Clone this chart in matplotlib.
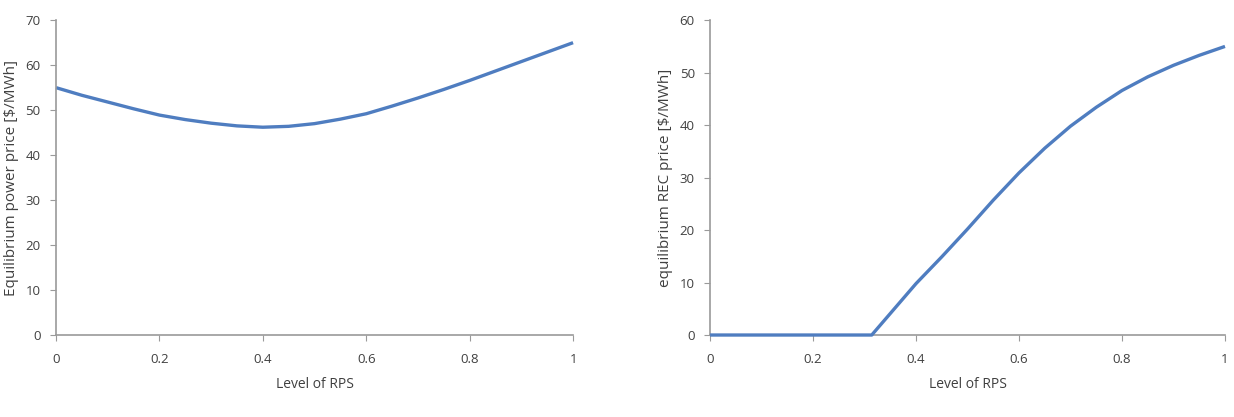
import matplotlib
matplotlib.use("Agg")
import matplotlib.pyplot as plt

# Left panel: equilibrium power price vs RPS level
rps_power = [0.0, 0.05, 0.1, 0.15, 0.2, 0.25, 0.3, 0.35, 0.4, 0.45, 0.5,
             0.55, 0.6, 0.65, 0.7, 0.75, 0.8, 0.85, 0.9, 0.95, 1.0]
power_price = [55.0, 53.3, 51.8, 50.3, 48.9, 47.9, 47.1, 46.5, 46.2, 46.4, 47.0,
               48.0, 49.2, 50.9, 52.7, 54.6, 56.6, 58.7, 60.8, 62.9, 65.0]

# Right panel: equilibrium REC price vs RPS level
rps_rec = [0.0, 0.314, 0.35, 0.4, 0.45, 0.5, 0.55, 0.6, 0.65, 0.7, 0.75,
           0.8, 0.85, 0.9, 0.95, 1.0]
rec_price = [0.0, 0.0, 4.1, 9.8, 14.9, 20.2, 25.7, 30.9, 35.6, 39.8, 43.4,
             46.6, 49.2, 51.4, 53.3, 55.0]

x_ticks = [0, 0.2, 0.4, 0.6, 0.8, 1]
x_tick_labels = ["0", "0.2", "0.4", "0.6", "0.8", "1"]

LINE = "#4F7DC0"
AXIS = "#9a9a9a"
TEXT = "#404040"

plt.rcParams["font.family"] = ["Open Sans", "DejaVu Sans"]

fig = plt.figure(figsize=(12.34, 4.17), dpi=100)
ax1 = fig.add_axes([0.0454, 0.1966, 0.419, 0.755])
ax2 = fig.add_axes([0.5754, 0.1966, 0.4173, 0.755])


def style(ax, ymax, ylabel):
    ax.set_xlim(0, 1)
    ax.set_ylim(0, ymax)
    ax.set_xticks(x_ticks)
    ax.set_xticklabels(x_tick_labels)
    ax.set_yticks(range(0, ymax + 1, 10))
    for s in ["top", "right"]:
        ax.spines[s].set_visible(False)
    for s in ["left", "bottom"]:
        ax.spines[s].set_color(AXIS)
        ax.spines[s].set_linewidth(1.2)
    ax.tick_params(direction="out", length=4, color=AXIS, labelsize=9.5,
                   labelcolor=TEXT)
    ax.tick_params(axis="x", pad=9)
    ax.tick_params(axis="y", pad=7)
    ax.set_xlabel("Level of RPS", fontsize=10, color=TEXT, labelpad=8)
    ax.set_ylabel(ylabel, fontsize=11, color=TEXT, labelpad=5)


ax1.plot(rps_power, power_price, color=LINE, linewidth=2.4, clip_on=False,
         solid_capstyle="butt")
style(ax1, 70, "Equilibrium power price [$/MWh]")

ax2.plot(rps_rec, rec_price, color=LINE, linewidth=2.4, clip_on=False,
         solid_capstyle="butt", zorder=5)
style(ax2, 60, "equilibrium REC price [$/MWh]")

fig.savefig("out.png", dpi=100)
